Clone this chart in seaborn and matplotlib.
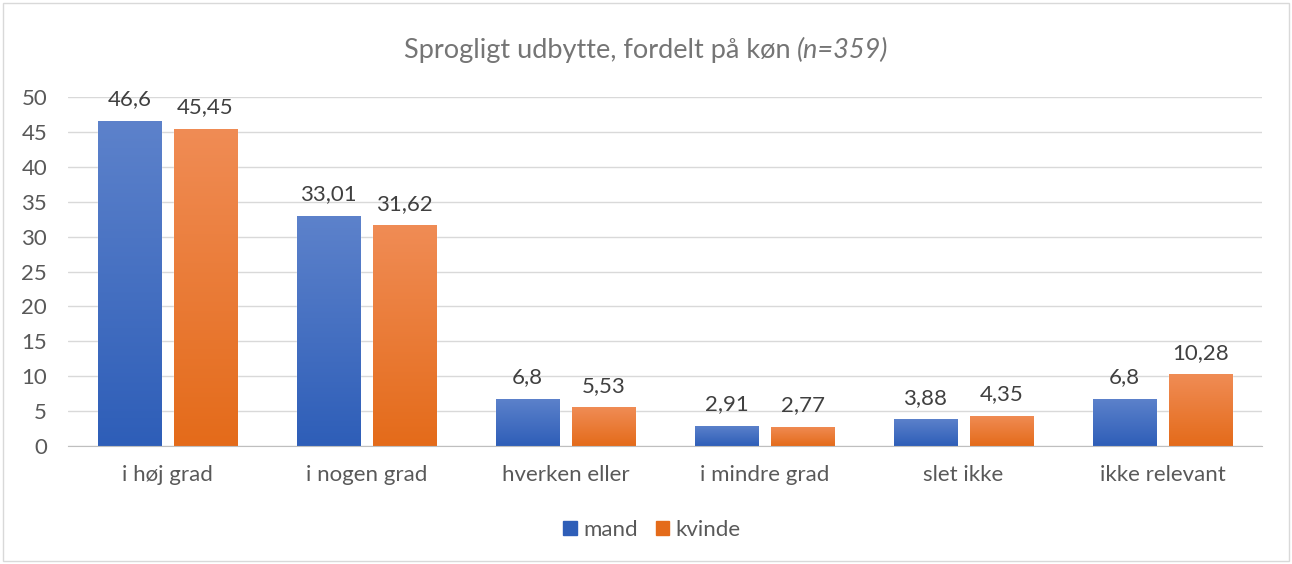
import numpy as np
import pandas as pd
import matplotlib.pyplot as plt
import matplotlib.patches as mpatches
from matplotlib.colors import LinearSegmentedColormap
import seaborn as sns

# data
categories = ["i høj grad", "i nogen grad", "hverken eller", "i mindre grad", "slet ikke", "ikke relevant"]
mand = [46.6, 33.01, 6.8, 2.91, 3.88, 6.8]
kvinde = [45.45, 31.62, 5.53, 2.77, 4.35, 10.28]
mand_labels = ["46,6", "33,01", "6,8", "2,91", "3,88", "6,8"]
kvinde_labels = ["45,45", "31,62", "5,53", "2,77", "4,35", "10,28"]

df = pd.DataFrame({
    "kategori": categories * 2,
    "køn": ["mand"] * len(categories) + ["kvinde"] * len(categories),
    "andel": mand + kvinde,
})

sns.set_style("white")
plt.rcParams["font.family"] = ["Lato", "DejaVu Sans"]

blue = "#4472C4"
orange = "#ED7D31"
grad = {
    "mand": ("#5D82CB", "#2E5EB8"),
    "kvinde": ("#F08C55", "#E46B1A"),
}

fig = plt.figure(figsize=(12.92, 5.64), dpi=100)
ax = fig.add_axes([68 / 1292, 1 - 446 / 564, 1194 / 1292, 349 / 564])

sns.barplot(data=df, x="kategori", y="andel", hue="køn", order=categories,
            hue_order=["mand", "kvinde"], palette=[blue, orange],
            width=0.764, gap=0.171, ax=ax, legend=False)

ax.set_ylim(0, 50)
ax.set_yticks(range(0, 51, 5))
ax.set_xlim(-0.5, len(categories) - 0.5)
ax.grid(axis="y", color="#D9D9D9", lw=1)
ax.set_axisbelow(True)
for s in ["left", "right", "top"]:
    ax.spines[s].set_visible(False)
ax.spines["bottom"].set_color("#BFBFBF")
ax.tick_params(axis="both", length=0, labelsize=16, colors="#595959")
ax.tick_params(axis="y", pad=15)
ax.tick_params(axis="x", pad=14)
ax.set_xlabel("")
ax.set_ylabel("")

# gradient fill + value labels
labels = mand_labels + kvinde_labels
hues = ["mand"] * len(categories) + ["kvinde"] * len(categories)
for patch, lab, h in zip(ax.patches, labels, hues):
    x0, y0 = patch.get_x(), patch.get_y()
    w, hgt = patch.get_width(), patch.get_height()
    cmap = LinearSegmentedColormap.from_list(h, [grad[h][1], grad[h][0]])
    img = ax.imshow(np.linspace(0, 1, 256).reshape(-1, 1), cmap=cmap, origin="lower",
                    extent=[x0, x0 + w, y0, y0 + hgt], aspect="auto", zorder=patch.get_zorder() + 0.1)
    img.set_clip_path(patch)
    ax.text(x0 + w / 2, y0 + hgt + 1.6, lab, ha="center", va="bottom",
            fontsize=16, color="#404040", zorder=5)
ax.set_xlim(-0.5, len(categories) - 0.5)
ax.set_ylim(0, 50)

# title with italic n
t1 = fig.text(0, 0, "Sprogligt udbytte, fordelt på køn ", fontsize=19.5, color="#757575")
t2 = fig.text(0, 0, "(n=359)", fontsize=19.5, color="#757575", style="italic")
fig.canvas.draw()
r = fig.canvas.get_renderer()
w1 = t1.get_window_extent(r).width
w2 = t2.get_window_extent(r).width
start = (646 - (w1 + w2) / 2) / 1292
t1.set_position((start, 1 - 58 / 564))
t2.set_position((start + w1 / 1292, 1 - 58 / 564))

# legend
handles = [mpatches.Patch(color=grad["mand"][1], label="mand"),
           mpatches.Patch(color=grad["kvinde"][1], label="kvinde")]
fig.legend(handles=handles, loc="center", bbox_to_anchor=(652 / 1292, 1 - 530 / 564),
           ncol=2, frameon=False, fontsize=16, handlelength=0.6, handleheight=0.6,
           handletextpad=0.3, columnspacing=0.8, labelcolor="#595959")

# chart border
fig.patches.append(mpatches.Rectangle((3 / 1292, 3 / 564), 1286 / 1292, 558 / 564,
                                      transform=fig.transFigure, fill=False,
                                      edgecolor="#D9D9D9", lw=1))

fig.savefig("out.png", dpi=100, facecolor="white")
